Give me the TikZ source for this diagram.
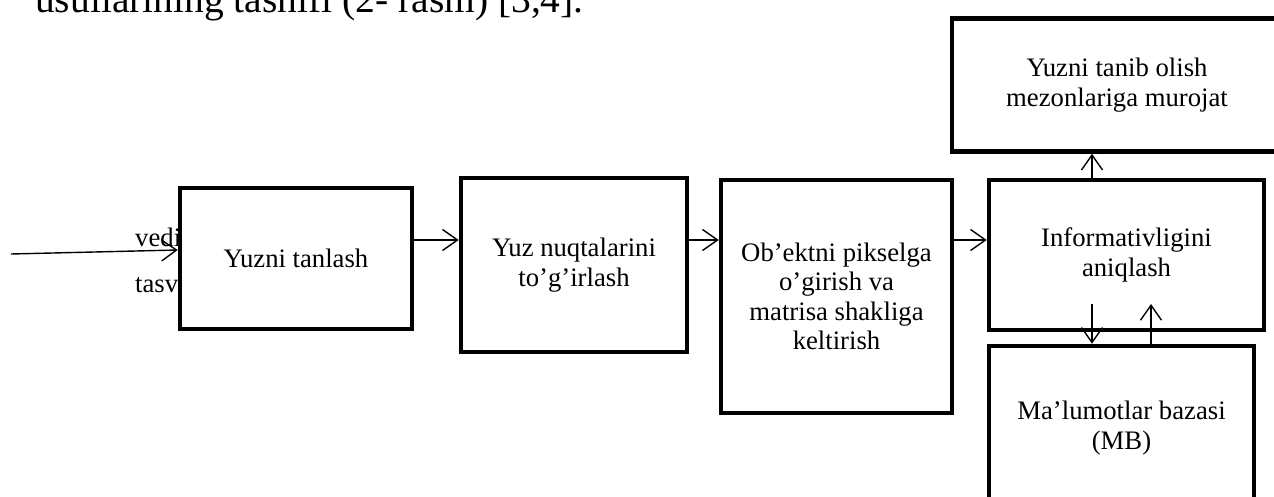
\documentclass[tikz,border=0pt]{standalone}
\usepackage{fontspec}
\setmainfont{Liberation Serif}
\usetikzlibrary{arrows.meta}
\newcommand{\boxfont}{\fontsize{26.7}{29.5}\selectfont}
\begin{document}
\begin{tikzpicture}[x=1pt,y=-1pt,
  block/.style={draw, line width=4.5pt, fill=white, align=center, inner sep=0pt, font=\boxfont},
  lbl/.style={inner sep=0pt, anchor=base west, font=\boxfont},
  link/.style={line width=1.4pt, -{Straight Barb[length=15pt,width=21pt,line width=1.4pt]}}]
\useasboundingbox (0,0) rectangle (1274,497);
\clip (0,0) rectangle (1274,497);

% heading line of the surrounding text
\node[inner sep=0pt, anchor=base west, font=\fontsize{39.5}{44}\selectfont] (head) at (35,13) {usullarining tasnifi (2- rasm) [3,4].};

% input labels (partly covered by the first block)
\node[lbl] (inA) at (135,246) {vedi};
\node[lbl] (inB) at (135,292) {tasvi};

% processing blocks
\node[block, minimum width=232pt, minimum height=141pt] (b1) at (296,258.5) {Yuzni tanlash};
\node[block, minimum width=226pt, minimum height=174pt] (b2) at (574,265) {Yuz nuqtalarini\\to’g’irlash};
\node[block, minimum width=231pt, minimum height=233pt] (b3) at (836.5,296.5) {Ob’ektni pikselga\\o’girish va\\matrisa shakliga\\keltirish};
\node[block, minimum width=275pt, minimum height=150pt] (b4) at (1126.5,255) {Informativligini\\aniqlash};
\node[block, minimum width=330pt, minimum height=133pt] (top) at (1117,85) {Yuzni tanib olish\\mezonlariga murojat};
\node[block, minimum width=265pt, minimum height=164pt] (mb) at (1121.5,428) {Ma’lumotlar bazasi\\(MB)};

% helper coordinates for connector rows and columns
\coordinate (row) at (0,240);
\coordinate (src) at (11,254);
\coordinate (colA) at (1092,0);
\coordinate (d1) at (1092,304);
\coordinate (u1) at (1151,304);

% connectors
\draw[link] (src) -- ([yshift=8.5pt]b1.west);
\draw[link] (b1.east |- row) -- (b2.west |- row);
\draw[link] (b2.east |- row) -- (b3.west |- row);
\draw[link] (b3.east |- row) -- (b4.west |- row);
\draw[link] (b4.north -| colA) -- (top.south -| colA);
\draw[link] (d1) -- (mb.north -| d1);
\draw[link] (mb.north -| u1) -- (u1);
\end{tikzpicture}
\end{document}
